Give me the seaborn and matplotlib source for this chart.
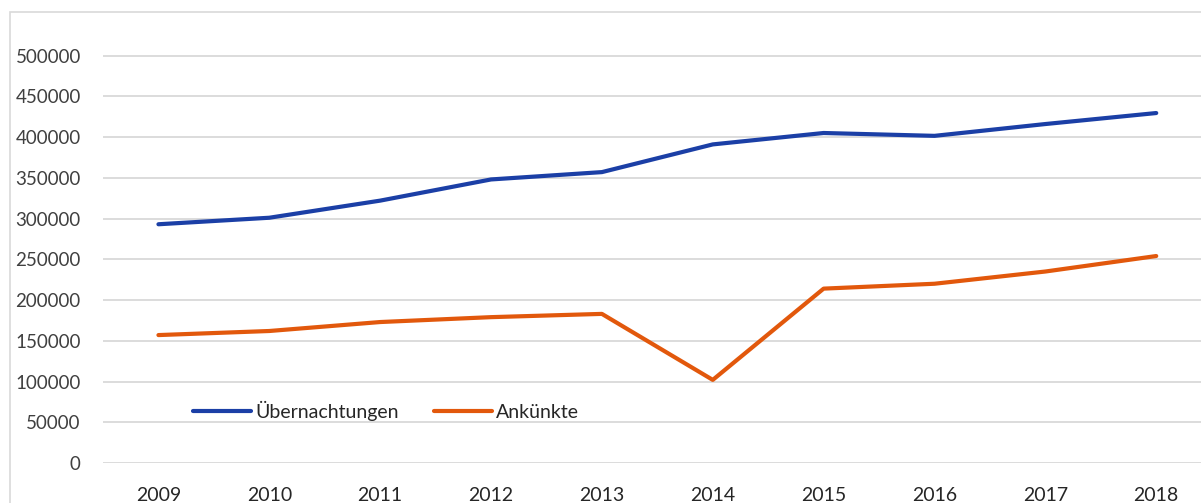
import matplotlib.pyplot as plt
from matplotlib.patches import Rectangle
import seaborn as sns
import pandas as pd

jahre = [2009, 2010, 2011, 2012, 2013, 2014, 2015, 2016, 2017, 2018]
uebernachtungen = [293000, 301000, 322000, 348000, 357000, 391000, 405000, 401500, 416000, 429500]
ankuenfte = [157000, 162000, 173000, 179000, 183000, 102000, 214000, 220000, 235000, 254000]
serien = ["Übernachtungen", "Ankünkte"]
farben = ["#1b3fa6", "#e2580c"]
yticks = [0, 50000, 100000, 150000, 200000, 250000, 300000, 350000, 400000, 450000, 500000]

df = pd.DataFrame({
    "pos": list(range(len(jahre))) * 2,
    "wert": uebernachtungen + ankuenfte,
    "serie": [serien[0]] * len(jahre) + [serien[1]] * len(jahre),
})

sns.set_style("white")
plt.rcParams["font.family"] = ["Lato", "DejaVu Sans"]

W, H = 1201, 503
fig = plt.figure(figsize=(W / 100, H / 100), dpi=100)
ax = fig.add_axes([103 / W, (H - 463) / H, (W - 103) / W, (463 - 23) / H])

sns.lineplot(data=df, x="pos", y="wert", hue="serie", palette=farben,
             linewidth=3.0, ax=ax, legend=False, solid_capstyle="round")

ax.set_xlim(-0.5, (W - 160) / 110.7)
ax.set_ylim(0, 540000)
ax.set_yticks(yticks)
ax.set_yticklabels([str(v) for v in yticks])
ax.set_xticks(range(len(jahre)))
ax.set_xticklabels([str(j) for j in jahre])
ax.yaxis.grid(True, color="#d9d9d9", linewidth=1.3)
ax.set_axisbelow(True)
for s in ax.spines.values():
    s.set_visible(False)
ax.tick_params(axis="y", length=0, pad=16, labelsize=13.5, labelcolor="#404040")
ax.tick_params(axis="x", length=0, pad=17, labelsize=14, labelcolor="#262626")
ax.set_xlabel("")
ax.set_ylabel("")

handles = [plt.Line2D([], [], color=c, linewidth=3.0, solid_capstyle="round") for c in farben]
ax.legend(handles, serien, loc="center left", bbox_to_anchor=(0.066, 0.118), ncol=2,
          frameon=False, fontsize=14, handlelength=3.0, handletextpad=0.2,
          columnspacing=1.8, labelcolor="#262626")

fig.patches.append(Rectangle((10 / W, -0.1), 1.2, (H - 12) / H + 0.1,
                             transform=fig.transFigure, fill=False,
                             edgecolor="#d9d9d9", linewidth=1.2))

fig.savefig("out.png", dpi=100)
